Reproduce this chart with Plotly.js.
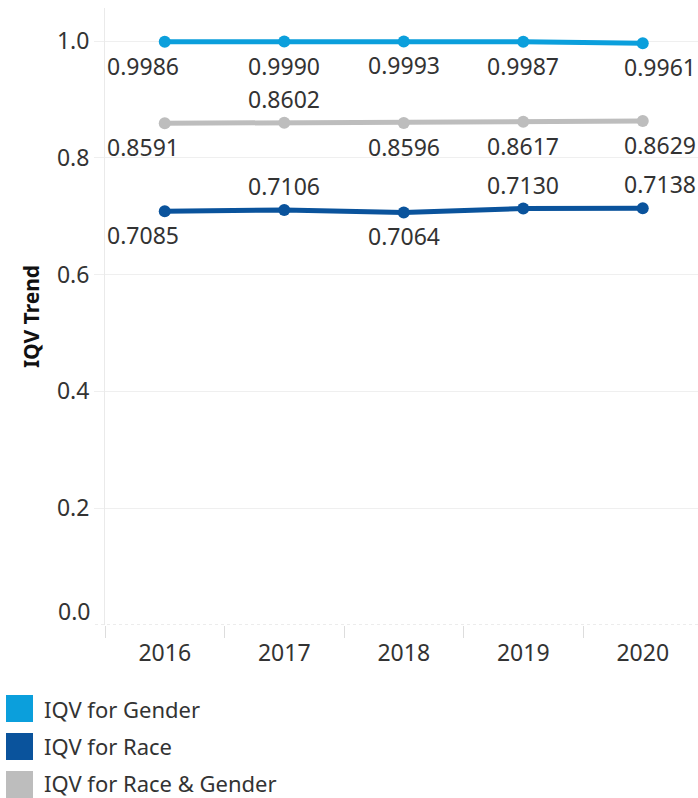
<!DOCTYPE html>
<html>
<head>
<meta charset="utf-8">
<script src="https://cdn.plot.ly/plotly-3.0.1.min.js"></script>
<style>html,body{margin:0;padding:0;background:#fff;}#chart{width:698px;height:798px;}</style>
</head>
<body>
<div id="chart"></div>
<script>
// ---- data ----
const years = ['2016', '2017', '2018', '2019', '2020'];
const iqvGender = [0.9986, 0.9990, 0.9993, 0.9987, 0.9961];
const iqvRace = [0.7085, 0.7106, 0.7064, 0.7130, 0.7138];
const iqvRaceGender = [0.8591, 0.8602, 0.8596, 0.8617, 0.8629];
const seriesNames = ['IQV for Gender', 'IQV for Race', 'IQV for Race & Gender'];
const yTickVals = [0.2, 0.4, 0.6, 0.8, 1.0];
const yZeroLabel = '0.0';
const yAxisTitle = 'IQV Trend';

// label placement: +1 above, -1 below
const genderPos = [-1, -1, -1, -1, -1];
const racePos = [-1, 1, -1, 1, 1];
const raceGenderPos = [-1, 1, -1, -1, -1];

// ---- styles / layout ----
const FONT = 'Noto Sans, Open Sans, sans-serif';
const colors = ['#0B9FDC', '#0A539C', '#BDBDBD'];
const W = 698, H = 798;
const ML = 105, MR = 0, MT = 8, MB = 173;
const PW = W - ML - MR, PH = H - MT - MB;
const px2x = p => (p - ML) / PW;
const py2y = p => (H - MB - p) / PH;
const gridColor = '#EFEFEF';
const textColor = '#333333';

const seriesVals = [iqvGender, iqvRace, iqvRaceGender];
const seriesPos = [genderPos, racePos, raceGenderPos];
const xShift = [-22, 0, 0, 0, 17];

const traces = seriesVals.map((vals, i) => ({
  type: 'scatter',
  mode: 'lines+markers',
  x: years,
  y: vals,
  name: seriesNames[i],
  line: {color: colors[i], width: 5},
  marker: {color: colors[i], size: 12},
  hoverinfo: 'x+y+name',
  showlegend: false
}));

const annotations = [];
seriesVals.forEach((vals, i) => {
  vals.forEach((v, j) => {
    annotations.push({
      x: j, y: v, xref: 'x', yref: 'y',   // category index of years[j]
      text: v.toFixed(4),
      showarrow: false,
      xanchor: 'center', yanchor: 'middle',
      xshift: xShift[j],
      yshift: seriesPos[i][j] * 24,
      font: {family: FONT, size: 23, color: textColor}
    });
  });
});
// 0.0 tick label (shifted up like the reference)
annotations.push({
  x: px2x(92), xref: 'paper', y: 0, yref: 'y',
  text: yZeroLabel, showarrow: false, xanchor: 'right', yanchor: 'middle',
  yshift: 14,
  font: {family: FONT, size: 23, color: textColor}
});

// legend built from shapes + annotations
const shapes = [];
const legendRowY = [708.5, 746.5, 784.5];
seriesNames.forEach((nm, i) => {
  const cy = legendRowY[i];
  shapes.push({
    type: 'rect', xref: 'paper', yref: 'paper',
    x0: px2x(6), x1: px2x(33), y0: py2y(cy - 13.5), y1: py2y(cy + 13.5),
    fillcolor: colors[i], line: {width: 0}
  });
  annotations.push({
    x: px2x(43), xref: 'paper', y: py2y(cy - (i === 2 ? 1.5 : 0)), yref: 'paper',
    text: nm, showarrow: false, xanchor: 'left', yanchor: 'middle',
    borderpad: 0,
    font: {family: FONT, size: 22, color: textColor}
  });
});
// dotted baseline at 0
shapes.push({
  type: 'line', xref: 'paper', yref: 'y',
  x0: px2x(95), x1: 1, y0: 0, y1: 0,
  line: {color: '#D9D9D9', width: 1, dash: 'dot'}
});

const layout = {
  width: W, height: H,
  margin: {l: ML, r: MR, t: MT, b: MB, pad: 0},
  paper_bgcolor: '#fff', plot_bgcolor: '#fff',
  font: {family: FONT, size: 23, color: textColor},
  showlegend: false,
  hovermode: 'closest',
  xaxis: {
    type: 'category',
    range: [-0.5, (PW / 119.5) - 0.5],
    tickson: 'boundaries',
    ticks: 'outside', ticklen: 12, tickcolor: '#DDDDDD', tickwidth: 1,
    ticklabelstandoff: 12,
    showgrid: false, zeroline: false, showline: false,
    tickfont: {family: FONT, size: 23, color: textColor},
    fixedrange: true
  },
  yaxis: {
    range: [0, PH / 584],
    tickvals: yTickVals,
    ticktext: yTickVals.map(v => v.toFixed(1)),
    ticks: 'outside', ticklen: 10, tickcolor: gridColor, tickwidth: 1,
    showgrid: true, gridcolor: gridColor, gridwidth: 1,
    zeroline: false,
    showline: true, linecolor: '#EAEAEA', linewidth: 1,
    tickfont: {family: FONT, size: 23, color: textColor},
    title: {text: yAxisTitle, standoff: 11, font: {family: FONT, size: 21, color: '#111', weight: 'bold'}},
    fixedrange: true
  },
  shapes: shapes,
  annotations: annotations
};

Plotly.newPlot('chart', traces, layout, {displayModeBar: false, staticPlot: false});
</script>
</body>
</html>
